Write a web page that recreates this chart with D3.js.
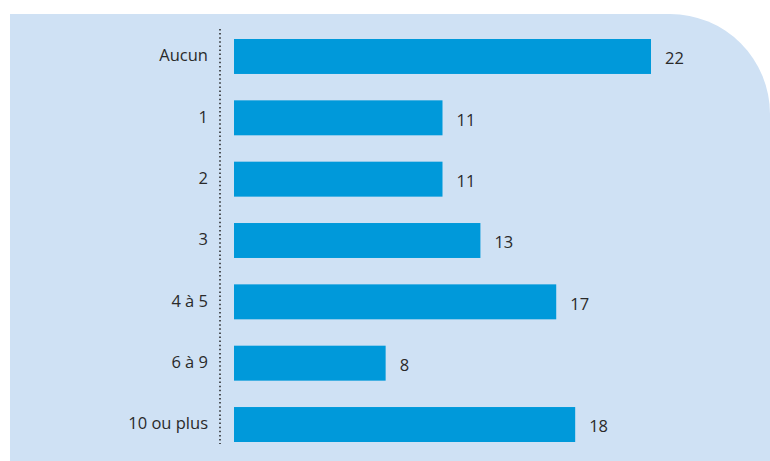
<!DOCTYPE html>
<html>
<head>
<meta charset="utf-8">
<script src="https://cdn.jsdelivr.net/npm/d3@7"></script>
<style>
  body { margin: 0; background: #fff; }
  svg { display: block; }
  text { font-family: "Open Sans", sans-serif; fill: #2a2a2a; }
</style>
</head>
<body>
<svg width="770" height="461"></svg>
<script>
let categories = ['Aucun', '1', '2', '3', '4 à 5', '6 à 9', '10 ou plus'];
let values = [22, 11, 11, 13, 17, 8, 18];

let width = 770, height = 461;
let svg = d3.select('svg');

// panel with rounded top-right corner
let px = 10, py = 14, r = 100;
svg.append('path')
    .attr('d', 'M' + px + ',' + py +
        'H' + (width - r) +
        'A' + r + ',' + r + ' 0 0 1 ' + width + ',' + (py + r) +
        'V' + height + 'H' + px + 'Z')
    .style('fill', '#cfe1f4');

let x = d3.scaleLinear()
    .domain([0, 22])
    .range([234, 651]);

let y = d3.scaleBand()
    .domain(categories)
    .range([39, 442])
    .paddingInner(0.43)
    .paddingOuter(0);

let data = categories.map(function(c, i) { return {cat: c, v: values[i]}; });

// dotted axis line
svg.append('line')
    .attr('x1', 220).attr('x2', 220)
    .attr('y1', 29).attr('y2', 444)
    .style('stroke', '#222')
    .style('stroke-width', 1.5)
    .style('stroke-dasharray', '1.5,2.6');

svg.selectAll('rect.bar')
    .data(data)
    .join('rect')
    .attr('class', 'bar')
    .attr('x', x(0))
    .attr('y', function(d) { return y(d.cat); })
    .attr('width', function(d) { return x(d.v) - x(0); })
    .attr('height', y.bandwidth())
    .style('fill', '#0099da');

svg.selectAll('text.cat')
    .data(data)
    .join('text')
    .attr('class', 'cat')
    .attr('x', 208)
    .attr('y', function(d) { return y(d.cat) + y.bandwidth() / 2 - 1; })
    .attr('dy', '0.35em')
    .attr('text-anchor', 'end')
    .style('font-size', '16.5px')
    .text(function(d) { return d.cat; });

svg.selectAll('text.val')
    .data(data)
    .join('text')
    .attr('class', 'val')
    .attr('x', function(d) { return x(d.v) + 14; })
    .attr('y', function(d) { return y(d.cat) + y.bandwidth() / 2 + 2; })
    .attr('dy', '0.35em')
    .style('font-size', '16.5px')
    .text(function(d) { return d.v; });
</script>
</body>
</html>
